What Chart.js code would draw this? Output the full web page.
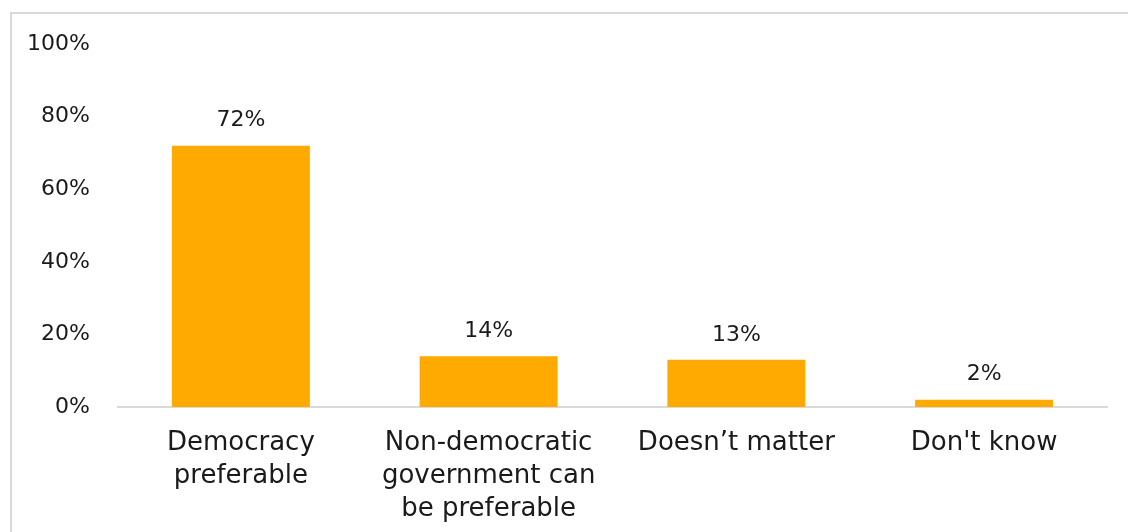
<!DOCTYPE html>
<html>
<head>
<meta charset="utf-8">
<script src="https://cdn.jsdelivr.net/npm/chart.js@4/dist/chart.umd.min.js"></script>
<style>
  html, body { margin: 0; padding: 0; background: #fff; overflow: hidden; }
  #wrap { position: relative; width: 1128px; height: 532px; }
  #frame { position: absolute; left: 10px; top: 12px; width: 1200px; height: 600px;
           border: 2px solid #d9d9d9; box-sizing: border-box; pointer-events: none; }
  canvas { position: absolute; left: 0; top: 0; }
</style>
</head>
<body>
<div id="wrap">
  <canvas id="chart" width="1128" height="532"></canvas>
  <div id="frame"></div>
</div>
<script>
// Survey responses: which form of government is preferable
const categories = [
  ['Democracy', 'preferable'],
  ['Non-democratic', 'government can', 'be preferable'],
  'Doesn\u2019t matter',
  'Don\'t know'
];
const shares = [72, 14, 13, 2];
const yTicks = [0, 20, 40, 60, 80, 100];

const FONT = '"DejaVu Sans", sans-serif';
const TEXT = '#1a1a1a';

// Writes each bar's value just above it
const valueLabels = {
  id: 'valueLabels',
  afterDatasetsDraw(chart) {
    const ctx = chart.ctx;
    const meta = chart.getDatasetMeta(0);
    ctx.save();
    ctx.font = '22px ' + FONT;
    ctx.fillStyle = TEXT;
    ctx.textAlign = 'center';
    ctx.textBaseline = 'middle';
    meta.data.forEach((bar, i) => {
      ctx.fillText(shares[i] + '%', bar.x, bar.y - 25);
    });
    ctx.restore();
  }
};

// Light baseline along the zero line
const baseline = {
  id: 'baseline',
  beforeDatasetsDraw(chart) {
    const { ctx, chartArea, scales } = chart;
    const y = scales.y.getPixelForValue(0);
    ctx.save();
    ctx.strokeStyle = '#d9d9d9';
    ctx.lineWidth = 2;
    ctx.beginPath();
    ctx.moveTo(chartArea.left, y);
    ctx.lineTo(chartArea.right, y);
    ctx.stroke();
    ctx.restore();
  }
};

new Chart(document.getElementById('chart'), {
  type: 'bar',
  data: {
    labels: categories,
    datasets: [{
      data: shares,
      backgroundColor: '#ffaa00',
      borderWidth: 0,
      categoryPercentage: 1,
      barPercentage: 0.557
    }]
  },
  options: {
    responsive: false,
    animation: false,
    devicePixelRatio: 1,
    layout: { padding: { top: 44, right: 20, left: 0, bottom: 0 } },
    plugins: { legend: { display: false }, tooltip: { enabled: false } },
    scales: {
      x: {
        grid: { display: false, drawTicks: false },
        border: { display: false },
        ticks: {
          color: TEXT,
          font: { family: FONT, size: 26, lineHeight: '33px' },
          padding: 20,
          maxRotation: 0,
          autoSkip: false
        },
        afterFit(scale) { scale.height = 125; }
      },
      y: {
        min: 0,
        max: 100,
        afterBuildTicks(scale) { scale.ticks = yTicks.map(v => ({ value: v })); },
        grid: { display: false, drawTicks: false },
        border: { display: false },
        ticks: {
          color: TEXT,
          font: { family: FONT, size: 22 },
          padding: 27,
          callback: v => v + '%'
        },
        afterFit(scale) { scale.width = 117; }
      }
    }
  },
  plugins: [baseline, valueLabels]
});
</script>
</body>
</html>
